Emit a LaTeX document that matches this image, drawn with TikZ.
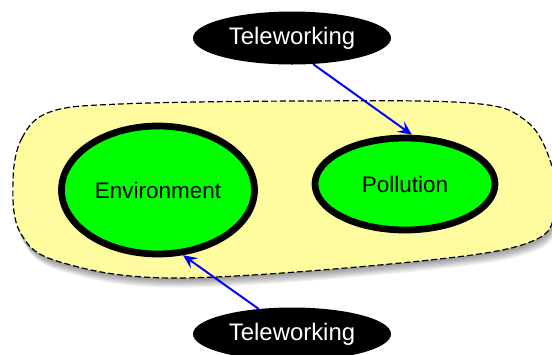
\documentclass[tikz,border=0pt]{standalone}
\usepackage{fontspec}
\setmainfont{Liberation Sans}
\usepackage{xcolor}
\usetikzlibrary{arrows.meta,shapes.geometric}
\definecolor{blobyellow}{RGB}{255,252,160}
\definecolor{topicgreen}{RGB}{0,255,0}
\tikzset{
  topic/.style={ellipse,draw=black,line width=4.8pt,fill=topicgreen,inner sep=0pt,
    font=\fontsize{16}{19}\selectfont},
  factor/.style={ellipse,fill=black,text=white,inner sep=0pt,minimum width=4.95cm,
    minimum height=1.325cm,font=\fontsize{17}{20}\selectfont},
  link/.style={draw=blue,line width=1.4pt,-{Stealth[length=10pt,width=9pt,inset=4pt]}}
}
\newcommand{\blobpath}{plot[smooth cycle,tension=0.6] coordinates {(0.325,-4.5) (0.55,-3.45) (1.25,-2.8) (3.0,-2.6) (7.5,-2.525) (11.75,-2.575) (13.125,-3.0) (13.75,-4.0) (13.875,-5.125) (13.375,-6.0) (10.75,-6.5) (4.5,-6.95) (1.5,-6.55) (0.5,-5.8)}}

\begin{document}
\begin{tikzpicture}
        \useasboundingbox (0,0) rectangle (13.8,-8.85);
        % region with its soft shadow
        \foreach \s in {1,...,8}
          \fill[black,opacity=0.06,shift={(0.01*\s,-0.03*\s)}] \blobpath;
        \filldraw[fill=blobyellow,draw=black,line width=0.85pt,dash pattern=on 4.3pt off 2.1pt] \blobpath;
        \node[topic,minimum width=4.825cm,minimum height=3.2cm] (env) at (3.95,-4.75) {Environment};
        \node[topic,minimum width=4.5cm,minimum height=2.3cm] (poll) at (10.125,-4.6) {Pollution};
        \node[factor] (teletop) at (7.3,-0.95) {Teleworking};
        \node[factor] (telebot) at (7.3,-8.35) {Teleworking};
        \draw[link] (teletop.-51) -- (poll.82);
        \draw[link] (telebot.143) -- (env.-69);
      \end{tikzpicture}
\end{document}
